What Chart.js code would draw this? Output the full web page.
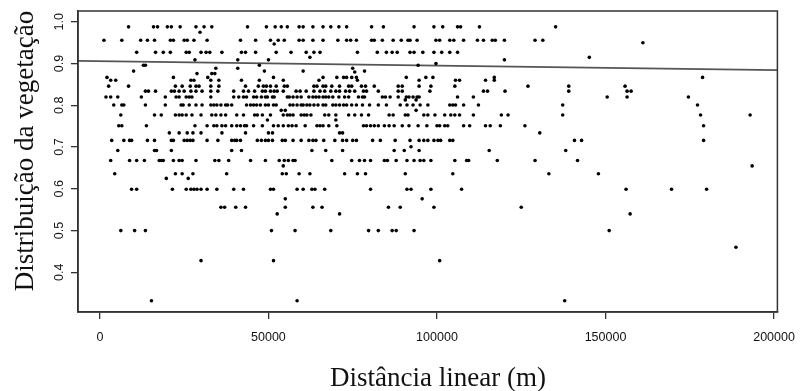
<!DOCTYPE html>
<html lang="pt">
<head>
  <meta charset="UTF-8">
  <title>Distribuição da vegetação vs distância linear</title>
  <script src="https://cdn.jsdelivr.net/npm/chart.js"></script>
  <style>
    body { margin: 0; background: #fff; }
    canvas { display: block; }
  </style>
</head>
<body>
  <canvas id="chart" width="806" height="391"></canvas>

  <script>
    // valores de y (distribuição) e, para cada um, as distâncias lidas (km)
    const niveis = [0.988, 0.975, 0.956, 0.950, 0.947, 0.927, 0.915, 0.909, 0.900, 0.896, 0.889, 0.882, 0.880, 0.876,
      0.867, 0.860, 0.846, 0.834, 0.820, 0.813, 0.801, 0.788, 0.777, 0.765, 0.751, 0.734, 0.716, 0.701, 0.692,
      0.668, 0.655, 0.636, 0.625, 0.599, 0.576, 0.556, 0.540, 0.500, 0.460, 0.428, 0.332];

    const distanciasKm = [
      [8.5, 15.9, 17.1, 20.0, 21.2, 23.8, 28.5, 30.9, 33.2, 43.8, 49.4, 52.0, 53.8, 55.6, 59.1, 60.3, 63.2, 66.2, 68.5, 70.9, 73.2, 80.6, 84.1, 93.2, 99.1, 101.7, 106.1, 107.0, 112.6, 135.2],
      [29.7],
      [1.2, 6.5, 12.1, 14.1, 16.2, 20.9, 21.8, 25.0, 25.9, 27.9, 31.8, 41.7, 46.2, 50.6, 52.9, 54.7, 59.1, 60.3, 63.2, 66.2, 70.6, 73.2, 74.4, 76.1, 80.6, 81.4, 83.8, 87.0, 89.4, 91.4, 92.0, 94.1, 99.7, 100.8, 103.8, 105.0, 107.9, 112.0, 113.8, 116.4, 117.3, 120.0, 129.1, 131.4],
      [161.1],
      [51.7],
      [10.9, 16.5, 18.8, 20.9, 25.6, 26.5, 30.0, 31.5, 32.6, 36.2, 42.0, 43.2, 46.2, 52.3, 56.7, 61.2, 63.5, 65.3, 76.4, 82.3, 85.0, 86.7, 88.2, 92.0, 93.2, 95.8, 99.1, 101.4, 103.8, 106.1],
      [62.3, 145.2],
      [28.2, 40.9, 50.0, 120.0],
      [99.7],
      [12.9, 13.5, 47.3, 94.4],
      [34.4, 40.9, 75.0],
      [10.0, 48.8, 60.3, 78.5],
      [75.6],
      [28.8, 33.2, 34.1],
      [2.1, 21.8, 32.0, 51.5, 66.2, 70.3, 72.3, 73.2, 74.7, 76.1, 90.9, 96.7, 98.8, 117.0, 178.8],
      [3.2, 4.7, 27.0, 27.9, 32.9, 35.3, 42.0, 47.3, 54.4, 65.0, 76.4, 94.7, 105.5, 106.7, 114.4, 117.0],
      [2.6, 8.5, 22.4, 24.4, 26.8, 28.5, 29.4, 32.9, 35.3, 43.2, 47.0, 48.5, 49.4, 50.6, 52.3, 54.7, 55.6, 63.5, 64.4, 66.2, 67.0, 68.8, 71.1, 73.8, 74.7, 77.6, 78.8, 81.4, 88.5, 89.7, 94.7, 98.2, 105.3, 127.0, 139.1, 155.8],
      [13.5, 14.4, 16.5, 21.2, 22.1, 23.5, 25.0, 27.0, 28.5, 30.3, 32.9, 35.0, 39.7, 42.6, 44.1, 45.9, 48.2, 49.1, 50.6, 51.7, 52.6, 54.4, 58.2, 59.4, 61.2, 63.5, 65.3, 66.7, 68.5, 70.0, 71.1, 72.9, 74.1, 75.6, 78.2, 79.1, 82.6, 88.5, 89.7, 97.9, 113.8, 115.0, 120.2, 139.1, 156.4, 157.6],
      [1.8, 3.2, 5.3, 12.3, 19.4, 22.6, 23.5, 25.6, 26.5, 27.3, 32.9, 39.7, 41.2, 42.6, 43.5, 45.6, 46.5, 47.9, 49.1, 49.7, 51.2, 51.7, 55.6, 56.2, 57.3, 58.5, 59.7, 62.0, 63.2, 64.1, 65.0, 66.2, 67.0, 67.9, 69.1, 70.9, 72.6, 73.8, 76.7, 77.9, 78.5, 83.8, 84.7, 86.1, 88.5, 90.9, 91.7, 92.9, 94.1, 94.7, 106.1, 110.8, 150.5, 156.4, 174.6],
      [90.6, 93.8],
      [4.1, 6.5, 7.1, 13.5, 19.4, 24.1, 24.7, 26.5, 28.5, 30.3, 32.9, 33.8, 34.7, 35.9, 37.3, 37.9, 39.1, 43.5, 44.7, 45.6, 46.5, 47.6, 49.1, 50.0, 51.5, 52.3, 56.4, 57.3, 58.5, 59.7, 60.3, 61.4, 62.3, 63.5, 64.7, 66.2, 67.0, 69.1, 70.0, 71.1, 72.3, 73.2, 74.7, 76.1, 77.9, 80.0, 82.6, 85.0, 89.1, 91.1, 92.9, 95.0, 97.3, 103.8, 104.7, 105.5, 107.9, 112.3, 137.3, 177.3],
      [53.8, 55.0, 93.8],
      [6.2, 16.2, 18.2, 22.4, 23.5, 24.4, 25.6, 27.3, 30.0, 33.2, 34.4, 35.9, 37.3, 40.6, 42.6, 45.9, 46.7, 48.2, 50.6, 54.4, 55.6, 56.4, 57.3, 59.7, 60.6, 61.4, 62.6, 66.7, 67.9, 70.0, 73.8, 75.6, 77.6, 79.7, 85.8, 87.0, 90.6, 91.4, 96.1, 97.3, 99.4, 102.3, 104.1, 105.3, 106.7, 110.8, 119.1, 121.1, 137.3, 178.2, 192.9],
      [49.7, 70.0],
      [5.6, 6.5, 13.8, 28.2, 31.8, 33.8, 34.7, 36.2, 37.3, 39.1, 40.6, 41.7, 42.9, 43.5, 45.6, 48.2, 51.5, 52.9, 54.4, 55.9, 57.0, 58.2, 60.9, 64.4, 65.3, 66.2, 67.9, 70.3, 78.2, 79.1, 80.3, 81.4, 82.6, 84.4, 85.8, 87.3, 89.7, 91.7, 94.4, 97.0, 100.0, 100.8, 102.3, 103.2, 107.9, 109.7, 114.4, 115.8, 118.8, 126.1, 179.1],
      [20.6, 23.5, 25.9, 27.6, 30.0, 36.2, 43.2, 50.0, 51.2, 71.1, 72.0, 130.5],
      [3.5, 7.1, 8.8, 9.4, 14.1, 16.2, 21.2, 21.8, 25.0, 25.9, 26.8, 27.6, 31.8, 35.0, 39.1, 40.0, 40.6, 41.7, 46.7, 47.9, 49.1, 50.0, 51.2, 54.1, 55.0, 57.3, 59.7, 62.0, 63.2, 64.1, 66.4, 69.7, 72.0, 73.2, 75.0, 76.1, 80.9, 83.2, 87.6, 92.0, 94.7, 96.1, 97.3, 99.1, 100.3, 101.1, 103.8, 104.7, 140.8, 142.9, 179.1],
      [92.3],
      [5.3, 16.2, 16.8, 21.2, 39.1, 42.0, 62.9, 67.0, 72.0, 87.3, 90.3, 94.7, 115.5, 138.2],
      [3.2, 8.8, 10.9, 13.2, 17.6, 18.2, 18.8, 21.8, 23.5, 24.4, 28.5, 34.1, 35.3, 38.2, 44.7, 49.1, 53.2, 54.7, 55.9, 57.3, 57.9, 68.8, 74.7, 77.0, 78.5, 80.3, 84.4, 85.3, 87.9, 91.1, 93.2, 95.0, 96.1, 98.2, 105.3, 108.8, 109.4, 117.9, 129.1, 141.7],
      [54.4, 193.5],
      [4.4, 22.4, 24.4, 27.6, 37.6, 54.1, 55.3, 59.1, 62.3, 72.6, 76.4, 78.8, 90.6, 104.7, 133.2, 147.9],
      [19.7, 26.2],
      [9.4, 10.9, 21.5, 25.6, 27.0, 27.9, 28.8, 30.0, 31.8, 34.7, 39.7, 42.6, 50.6, 51.5, 58.5, 60.3, 62.9, 63.8, 66.7, 80.3, 91.1, 92.3, 98.2, 107.3, 156.1, 169.6, 180.0],
      [55.0, 95.6],
      [35.9, 37.0, 40.3, 43.2, 55.0, 63.2, 65.9, 85.6, 89.1, 99.1, 125.0],
      [52.6, 71.1, 157.3],
      [6.2, 10.3, 13.5, 50.9, 57.9, 68.5, 79.7, 82.6, 86.7, 87.9, 93.2, 151.1],
      [188.7],
      [30.0, 51.5, 100.8],
      [15.3, 58.5, 137.9]
    ];

    // reta ajustada: y = intercepto + inclinacao * x
    const intercepto = 0.9059;
    const inclinacao = -1.07e-7;

    const xTicks = [0, 50000, 100000, 150000, 200000];
    const yTicks = [0.4, 0.5, 0.6, 0.7, 0.8, 0.9, 1.0];
    const xMin = -6500, xMax = 201000;
    const yMin = 0.305, yMax = 1.026;

    const tituloX = 'Distância linear (m)';
    const tituloY = 'Distribuição da vegetação';

    const pontos = [];
    niveis.forEach((y, i) => {
      distanciasKm[i].forEach(km => pontos.push({ x: km * 1000, y }));
    });

    const reta = [xMin, xMax].map(x => ({ x, y: intercepto + inclinacao * x }));

    // caixa em volta + rótulos do eixo y girados + títulos
    const moldura = {
      id: 'moldura',
      afterDraw(chart) {
        const { ctx, chartArea: a, scales: { y } } = chart;
        ctx.save();
        ctx.strokeStyle = '#333';
        ctx.lineWidth = 1.5;
        ctx.strokeRect(a.left, a.top, a.right - a.left, a.bottom - a.top);

        ctx.fillStyle = '#111';
        ctx.font = '12.5px "Liberation Sans", Arial, sans-serif';
        ctx.textAlign = 'center';
        ctx.textBaseline = 'alphabetic';
        yTicks.forEach(v => {
          ctx.save();
          ctx.translate(a.left - 15, y.getPixelForValue(v));
          ctx.rotate(-Math.PI / 2);
          ctx.fillText(v.toFixed(1), 0, 0);
          ctx.restore();
        });

        ctx.fillStyle = '#111';
        ctx.font = '27px "Liberation Serif", "Times New Roman", serif';
        ctx.fillText(tituloX, 438, 386);
        ctx.save();
        ctx.translate(33, 151);
        ctx.rotate(-Math.PI / 2);
        ctx.fillText(tituloY, 0, 0);
        ctx.restore();
        ctx.restore();
      }
    };

    const ctx = document.getElementById('chart').getContext('2d');
    const chart = new Chart(ctx, {
      type: 'scatter',
      data: {
        datasets: [
          {
            data: pontos,
            pointRadius: 1.8,
            borderWidth: 0,
            backgroundColor: '#000'
          },
          {
            type: 'line',
            data: reta,
            borderColor: '#555',
            borderWidth: 1.6,
            pointRadius: 0,
            fill: false
          }
        ]
      },
      options: {
        responsive: false,
        animation: false,
        layout: { padding: { top: 11, right: 23, left: 0, bottom: 0 } },
        plugins: { legend: { display: false }, tooltip: { enabled: false } },
        scales: {
          x: {
            type: 'linear',
            min: xMin,
            max: xMax,
            afterBuildTicks: s => { s.ticks = xTicks.map(value => ({ value })); },
            afterFit: s => { s.height = 79; },
            grid: { drawOnChartArea: false, tickLength: 7, color: '#333', lineWidth: 1.3 },
            border: { color: '#333', width: 1.5 },
            ticks: {
              padding: 11,
              color: '#111',
              font: { family: '"Liberation Sans", Arial, sans-serif', size: 12.5 },
              callback: v => String(v)
            }
          },
          y: {
            min: yMin,
            max: yMax,
            afterBuildTicks: s => { s.ticks = yTicks.map(value => ({ value })); },
            afterFit: s => { s.width = 78; },
            grid: { drawOnChartArea: false, tickLength: 7, color: '#333', lineWidth: 1.3 },
            border: { color: '#333', width: 1.5 },
            ticks: { color: 'rgba(0,0,0,0)' }
          }
        }
      },
      plugins: [moldura]
    });
  </script>
</body>
</html>
